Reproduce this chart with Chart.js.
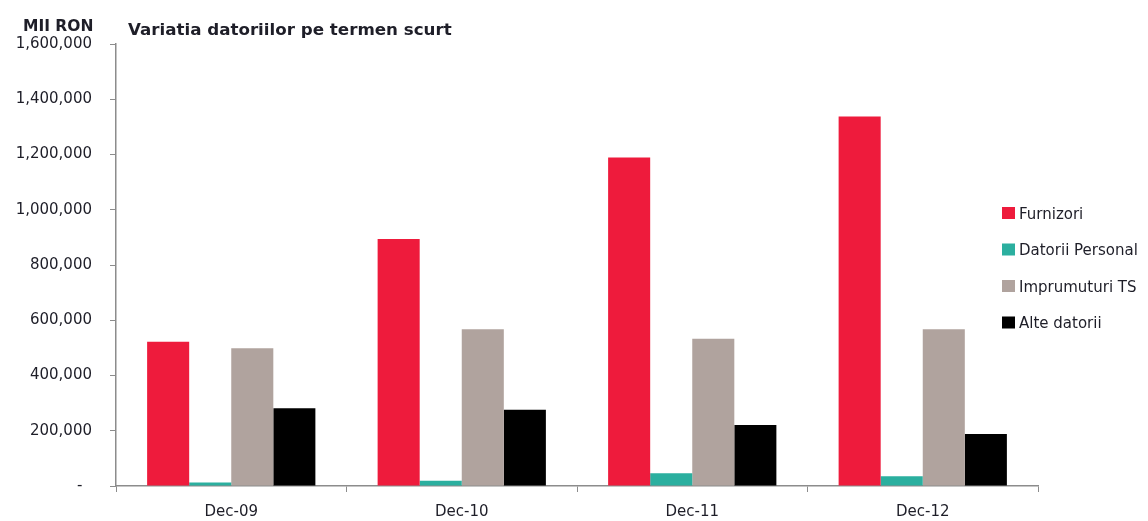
<!DOCTYPE html>
<html lang="ro">
<head>
    <meta charset="UTF-8">
    <title>Variatia datoriilor pe termen scurt</title>
    <script src="https://cdn.jsdelivr.net/npm/chart.js"></script>
    <style>
        html, body { margin: 0; padding: 0; background: #fff; }
        #wrap { position: relative; width: 1148px; height: 521px; }
    </style>
</head>
<body>
    <div id="wrap"><canvas id="chart" width="1148" height="521"></canvas></div>

    <script>
        // date (mii RON)
        const perioade = ["Dec-09", "Dec-10", "Dec-11", "Dec-12"];
        const furnizori = [522000, 894000, 1189000, 1338000];
        const datoriiPersonal = [13000, 19000, 46000, 35000];
        const imprumuturiTS = [499000, 567000, 533000, 567000];
        const alteDatorii = [281000, 276000, 221000, 188000];

        const yTicks = [0, 200000, 400000, 600000, 800000, 1000000, 1200000, 1400000, 1600000];

        const FONT = "'DejaVu Sans', sans-serif";
        const TEXT = "#1e1e28";
        const AXIS = "#8c8c8c";

        // titlu, unitate si legenda desenate pe canvas
        const extraText = {
            id: "extraText",
            afterDraw(chart) {
                const ctx = chart.ctx;
                ctx.save();
                ctx.fillStyle = TEXT;
                ctx.textBaseline = "alphabetic";
                ctx.textAlign = "left";
                ctx.font = "bold 15.5px " + FONT;
                ctx.fillText("MII RON", 23, 31);
                ctx.font = "bold 16.7px " + FONT;
                ctx.fillText("Variatia datoriilor pe termen scurt", 128, 35);

                ctx.font = "15px " + FONT;
                chart.data.datasets.forEach((ds, i) => {
                    const cy = 213 + i * 36.5;
                    ctx.fillStyle = ds.backgroundColor;
                    ctx.fillRect(1002, cy - 6, 13, 12);
                    ctx.fillStyle = TEXT;
                    ctx.fillText(ds.label, 1019, cy + 5.5);
                });
                ctx.restore();
            }
        };

        new Chart(document.getElementById("chart"), {
            type: "bar",
            data: {
                labels: perioade,
                datasets: [
                    { label: "Furnizori", data: furnizori, backgroundColor: "#ee1b3c" },
                    { label: "Datorii Personal", data: datoriiPersonal, backgroundColor: "#2baf9f" },
                    { label: "Imprumuturi TS", data: imprumuturiTS, backgroundColor: "#b0a39e" },
                    { label: "Alte datorii", data: alteDatorii, backgroundColor: "#000000" }
                ]
            },
            options: {
                responsive: false,
                animation: false,
                layout: { padding: { top: 44, right: 110, left: 0, bottom: 0 } },
                datasets: { bar: { barPercentage: 1, categoryPercentage: 0.73 } },
                plugins: {
                    legend: { display: false },
                    tooltip: { enabled: false }
                },
                scales: {
                    x: {
                        afterFit: s => { s.height = 35; },
                        grid: { drawOnChartArea: false, drawTicks: true, tickLength: 6, color: AXIS, offset: true },
                        border: { color: AXIS, width: 1.5 },
                        ticks: { color: TEXT, font: { family: FONT, size: 15 }, padding: 11 }
                    },
                    y: {
                        min: 0,
                        max: 1600000,
                        afterFit: s => { s.width = 116; },
                        afterBuildTicks: s => { s.ticks = yTicks.map(v => ({ value: v })); },
                        grid: { drawOnChartArea: false, drawTicks: true, tickLength: 6, color: AXIS },
                        border: { color: AXIS, width: 1.5 },
                        ticks: {
                            color: TEXT,
                            font: { family: FONT, size: 15 },
                            padding: 18,
                            callback: v => v === 0 ? "-  " : v.toLocaleString("en-US")
                        }
                    }
                }
            },
            plugins: [extraText]
        });
    </script>
</body>
</html>
